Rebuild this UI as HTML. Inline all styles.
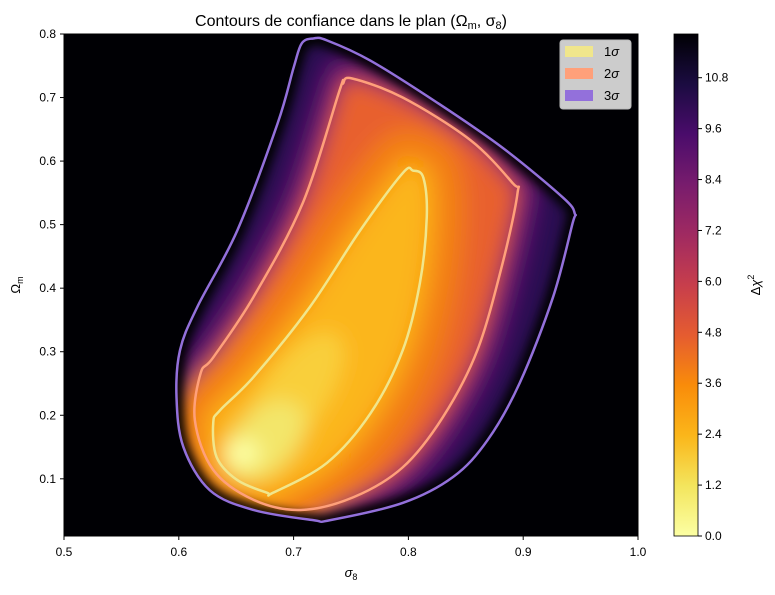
<!DOCTYPE html>
<html><head><meta charset="utf-8"><style>
body{margin:0;background:#fff;}
svg text{font-family:"Liberation Sans","DejaVu Sans",sans-serif;fill:#000;}
</style></head><body>
<svg id="chart" width="775" height="590" xmlns="http://www.w3.org/2000/svg">
<defs>
<linearGradient id="cbar" x1="0" y1="1" x2="0" y2="0">
<stop offset="0" stop-color="#fcffa4"/><stop offset="0.1" stop-color="#f3e55d"/>
<stop offset="0.2" stop-color="#fbb61a"/><stop offset="0.3" stop-color="#f98c0a"/>
<stop offset="0.4" stop-color="#e55c30"/><stop offset="0.5" stop-color="#c73e4c"/>
<stop offset="0.6" stop-color="#a02a61"/><stop offset="0.7" stop-color="#781c6d"/>
<stop offset="0.8" stop-color="#4a0c6b"/><stop offset="0.9" stop-color="#1b0c41"/>
<stop offset="1" stop-color="#000004"/></linearGradient>
<filter id="blur" x="-20%" y="-20%" width="140%" height="140%"><feGaussianBlur stdDeviation="10"/></filter>
<filter id="blur2" x="-20%" y="-20%" width="140%" height="140%"><feGaussianBlur stdDeviation="5"/></filter>
<clipPath id="plotclip"><rect x="64" y="34" width="574" height="502"/></clipPath>
<clipPath id="c3clip"><path id="c3clippath"/></clipPath>
</defs>
<text x="351" y="26" font-size="16" text-anchor="middle">Contours de confiance dans le plan (Ω<tspan font-size="11" dy="3">m</tspan><tspan dy="-3">, σ</tspan><tspan font-size="11" dy="3">8</tspan><tspan dy="-3">)</tspan></text>
<rect x="64" y="34" width="574" height="502" fill="#000004"/>
<g id="field" clip-path="url(#c3clip)"></g>
<g id="contours" clip-path="url(#plotclip)"></g>
<rect x="64" y="34" width="574" height="502" fill="none" stroke="#000" stroke-width="1"/>
<g id="axes"></g>
<text x="351" y="577" font-size="13" text-anchor="middle" font-style="italic">σ<tspan font-size="9" dy="3" font-style="normal">8</tspan></text>
<text transform="translate(20,285) rotate(-90)" font-size="13" text-anchor="middle">Ω<tspan font-size="9" dy="3">m</tspan></text>
<g>
<rect x="560" y="40" width="71" height="69" rx="3" fill="#cccccc" stroke="#bbb"/>
<rect x="565" y="46" width="28" height="11" fill="#f0e68c"/>
<text x="604" y="56" font-size="13">1<tspan font-style="italic">σ</tspan></text>
<rect x="565" y="68" width="28" height="11" fill="#ffa07a"/>
<text x="604" y="78" font-size="13">2<tspan font-style="italic">σ</tspan></text>
<rect x="565" y="90" width="28" height="11" fill="#9370db"/>
<text x="604" y="100" font-size="13">3<tspan font-style="italic">σ</tspan></text>
</g>
<rect x="674" y="34" width="24" height="502" fill="url(#cbar)" stroke="#000" stroke-width="0.8"/>
<g id="cbaxis"></g>
<text transform="translate(760,285) rotate(-90)" font-size="13" text-anchor="middle">Δ<tspan font-style="italic">χ</tspan><tspan font-size="9" dy="-6">2</tspan></text>
</svg>
<script>
const xTicks=[0.5,0.6,0.7,0.8,0.9,1.0];
const yTicks=[0.1,0.2,0.3,0.4,0.5,0.6,0.7,0.8];
const cbTicks=[0.0,1.2,2.4,3.6,4.8,6.0,7.2,8.4,9.6,10.8];
const contour3s=[0.707,0.785, 0.717,0.793, 0.729,0.790, 0.767,0.758, 0.825,0.692, 0.882,0.621, 0.935,0.542, 0.945,0.517, 0.943,0.502, 0.926,0.386, 0.897,0.251, 0.869,0.161, 0.839,0.103, 0.795,0.062, 0.732,0.035, 0.717,0.035, 0.665,0.051, 0.627,0.082, 0.604,0.150, 0.598,0.228, 0.601,0.302, 0.616,0.370, 0.651,0.491, 0.686,0.659, 0.700,0.747];
const contour2s=[0.743,0.722, 0.751,0.730, 0.795,0.700, 0.854,0.633, 0.891,0.565, 0.895,0.549, 0.882,0.439, 0.860,0.302, 0.830,0.197, 0.795,0.118, 0.752,0.071, 0.706,0.051, 0.665,0.067, 0.630,0.114, 0.614,0.192, 0.619,0.266, 0.630,0.291, 0.665,0.386, 0.708,0.534, 0.740,0.711];
const contour1s=[0.804,0.585, 0.813,0.574, 0.816,0.512, 0.810,0.408, 0.795,0.302, 0.767,0.203, 0.729,0.125, 0.682,0.078, 0.677,0.078, 0.651,0.098, 0.633,0.134, 0.630,0.188, 0.636,0.208, 0.665,0.260, 0.714,0.370, 0.758,0.491, 0.795,0.581];
const bestFit=[0.655,0.14];
const X0=64,X1=638,Y0=536,Y1=34;
const sx=s=>X0+(s-0.5)/0.5*(X1-X0);
const sy=o=>Y0-(o-0.01)/0.79*(Y0-Y1);
const cy=v=>536-v/11.83*502;
const NS="http://www.w3.org/2000/svg";
function mk(tag,attrs,parent){const e=document.createElementNS(NS,tag);for(const k in attrs)e.setAttribute(k,attrs[k]);parent.appendChild(e);return e;}
function pathFrom(arr){
  const p=[];for(let i=0;i<arr.length;i+=2)p.push([sx(arr[i]),sy(arr[i+1])]);
  const n=p.length;let d=`M${p[0][0]},${p[0][1]}`;
  for(let i=0;i<n;i++){const a=p[(i-1+n)%n],b=p[i],c=p[(i+1)%n],e=p[(i+2)%n];
    d+=`C${b[0]+(c[0]-a[0])/6},${b[1]+(c[1]-a[1])/6} ${c[0]-(e[0]-b[0])/6},${c[1]-(e[1]-b[1])/6} ${c[0]},${c[1]}`;}
  return d+'Z';
}
const d3=pathFrom(contour3s),d2=pathFrom(contour2s),d1=pathFrom(contour1s);
document.getElementById('c3clippath').setAttribute('d',d3);
const field=document.getElementById('field');
const g=mk('g',{filter:'url(#blur)'},field);
mk('path',{d:d3,fill:'#2a0a52'},g);
mk('path',{d:d2,fill:'#8a2268',stroke:'#5e1470','stroke-width':40,'stroke-linejoin':'round'},g);
mk('path',{d:d2,fill:'#e8602e',stroke:'#b8345a','stroke-width':6,'stroke-linejoin':'round'},g);
mk('path',{d:d1,fill:'#f98c0a',stroke:'#f27c12','stroke-width':80,'stroke-linejoin':'round'},g);
mk('path',{d:d1,fill:'#fba210',stroke:'#f99a0c','stroke-width':30,'stroke-linejoin':'round'},g);
mk('path',{d:d1,fill:'#fbb61a'},g);
mk('ellipse',{cx:sx(0.70),cy:sy(0.23),rx:32,ry:75,fill:'#f9cf3a',transform:`rotate(35 ${sx(0.70)} ${sy(0.23)})`},g);
mk('ellipse',{cx:sx(0.675),cy:sy(0.16),rx:30,ry:48,fill:'#f3e66a',transform:`rotate(45 ${sx(0.675)} ${sy(0.16)})`},g);
mk('ellipse',{cx:sx(bestFit[0]),cy:sy(bestFit[1]),rx:18,ry:14,fill:'#fcffa4'},g);
const g2=mk('g',{filter:'url(#blur2)'},field);
mk('path',{d:d3,fill:'none',stroke:'#000004','stroke-width':12},g2);
const ct=document.getElementById('contours');
const l3=mk('path',{d:d3,fill:'none',stroke:'#9370db','stroke-width':2.5},ct);


const l2=mk('path',{d:d2,fill:'none',stroke:'#ffa07a','stroke-width':2.5},ct);


const l1=mk('path',{d:d1,fill:'none',stroke:'#f0e68c','stroke-width':2.5},ct);


const ax=document.getElementById('axes');
xTicks.forEach(t=>{const x=sx(t);mk('line',{x1:x,x2:x,y1:536,y2:540,stroke:'#000'},ax);
  const tx=mk('text',{x:x,y:556,'font-size':12,'text-anchor':'middle'},ax);tx.textContent=t.toFixed(1);
  
  });
yTicks.forEach(t=>{const y=sy(t);mk('line',{x1:60,x2:64,y1:y,y2:y,stroke:'#000'},ax);
  const tx=mk('text',{x:56,y:y+4,'font-size':12,'text-anchor':'end'},ax);tx.textContent=t.toFixed(1);
  
  });
const cb=document.getElementById('cbaxis');
cbTicks.forEach(t=>{const y=cy(t);mk('line',{x1:698,x2:702,y1:y,y2:y,stroke:'#000'},cb);
  const tx=mk('text',{x:705,y:y+4,'font-size':12},cb);tx.textContent=t.toFixed(1);
  
  });
</script>
</body></html>
